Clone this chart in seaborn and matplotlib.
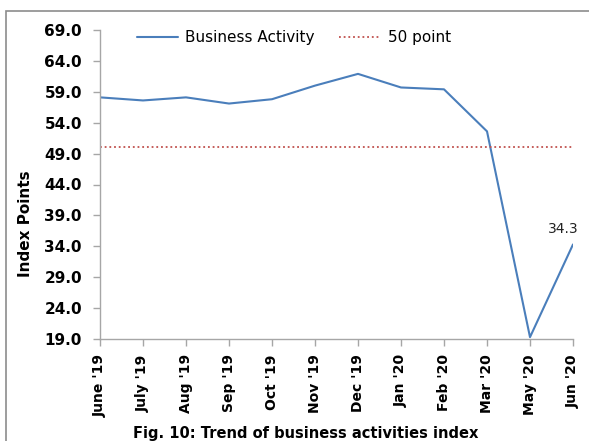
import matplotlib
matplotlib.use('Agg')
import matplotlib.pyplot as plt
import seaborn as sns
import pandas as pd
from matplotlib.patches import Rectangle

# Data
months = ["June '19", "July '19", "Aug '19", "Sep '19", "Oct '19", "Nov '19",
          "Dec '19", "Jan '20", "Feb '20", "Mar '20", "May '20", "Jun '20"]
activity = [58.1, 57.6, 58.1, 57.1, 57.8, 60.0, 61.9, 59.7, 59.4, 52.6, 19.3, 34.3]
threshold = 50.0
y_ticks = [19, 24, 29, 34, 39, 44, 49, 54, 59, 64, 69]

df = pd.DataFrame({'pos': range(len(months)), 'month': months, 'value': activity})

sns.set_style('white')
plt.rcParams['font.family'] = ['DejaVu Sans']
plt.rcParams['text.color'] = 'black'
plt.rcParams['xtick.labelcolor'] = 'black'
plt.rcParams['ytick.labelcolor'] = 'black'

fig = plt.figure(figsize=(5.89, 4.41), dpi=100)
ax = fig.add_axes([100 / 589, 1 - 339 / 441, 473 / 589, 309 / 441])

sns.lineplot(data=df, x='pos', y='value', ax=ax, color='#4a7ebb', linewidth=1.5,
             label='Business Activity')
ax.axhline(threshold, color='#c0504d', linestyle=(0, (1, 1.6)), linewidth=1.3,
           label='50 point')

# label on the last point
ax.annotate(f'{activity[-1]:.1f}', xy=(df['pos'].iloc[-1], activity[-1]),
            xytext=(-7, 11), textcoords='offset points', ha='center', va='center',
            fontsize=10, color='#222222')

ax.set_xlim(0, len(months) - 1)
ax.set_ylim(19, 69)
ax.set_yticks(y_ticks)
ax.set_yticklabels([f'{v:.1f}' for v in y_ticks], fontsize=11, fontweight='bold')
ax.set_xticks(df['pos'])
ax.set_xticklabels(months, rotation=90, fontsize=10, fontweight='bold')
ax.set_xlabel('')
ax.set_ylabel('Index Points', fontsize=11, fontweight='bold', color='black')
ax.yaxis.set_label_coords(-0.142, 0.372)

for side in ['top', 'right']:
    ax.spines[side].set_visible(False)
for side in ['left', 'bottom']:
    ax.spines[side].set_color('#a6a6a6')
    ax.spines[side].set_linewidth(1.0)
ax.tick_params(axis='both', which='both', direction='out', length=5, width=1.0,
               color='#a6a6a6', left=True, bottom=True)
ax.tick_params(axis='y', pad=8)
ax.tick_params(axis='x', pad=6)

ax.legend(loc='center', bbox_to_anchor=(0.41, 0.975), ncol=2, frameon=False,
          fontsize=11, handlelength=2.7, columnspacing=1.6, handletextpad=0.5)

fig.text(306 / 589, 0.018, 'Fig. 10: Trend of business activities index', ha='center',
         va='center', fontsize=10.5, fontweight='bold')

# outer frame, partly cropped like the source
fig.add_artist(Rectangle((6 / 589, -0.1), 1.2, 1 - 11 / 441 + 0.1,
                         transform=fig.transFigure, fill=False,
                         edgecolor='#8c8c8c', linewidth=1.2))

fig.savefig('out.png', dpi=100)
